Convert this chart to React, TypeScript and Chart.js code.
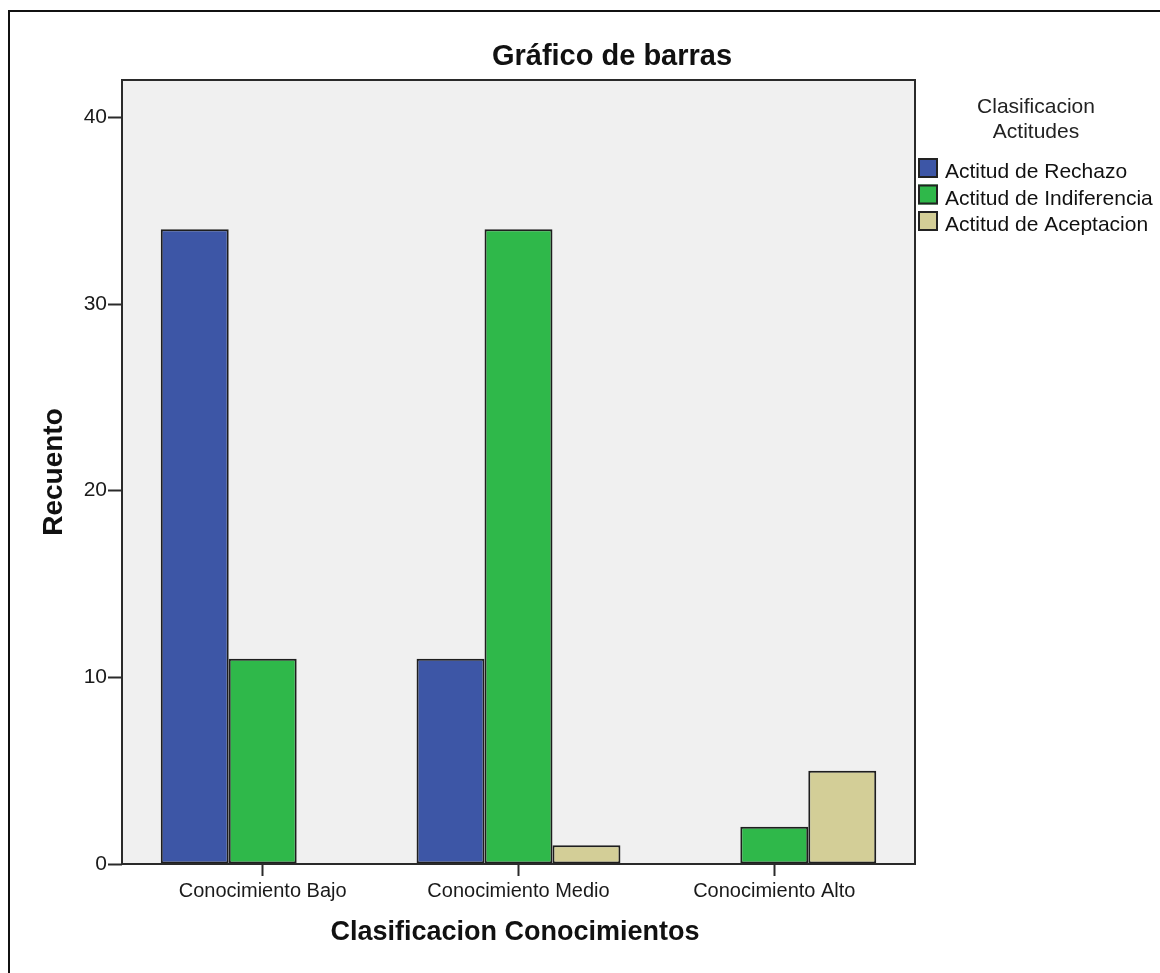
import React, { useEffect, useRef } from "react";
import { Chart, registerables } from "chart.js";
Chart.register(...registerables);

const chartTitle = "Gráfico de barras";
const xTitle = "Clasificacion Conocimientos";
const yTitle = "Recuento";
const legendTitle = ["Clasificacion", "Actitudes"];
const categories = ["Conocimiento Bajo", "Conocimiento Medio", "Conocimiento Alto"];
const seriesLabels = ["Actitud de Rechazo", "Actitud de Indiferencia", "Actitud de Aceptacion"];
const rechazo: (number | null)[] = [34, 11, null];
const indiferencia: (number | null)[] = [11, 34, 2];
const aceptacion: (number | null)[] = [null, 1, 5];
const yTicks = [0, 10, 20, 30, 40];
const yMax = 42;
const colors = ["#3d56a6", "#2fb84a", "#d3ce97"];

const FONT = "Arial, 'Liberation Sans', sans-serif";
const W = 1160;
const H = 973;

export default function App() {
  const ref = useRef<HTMLCanvasElement | null>(null);

  useEffect(() => {
    document.body.style.margin = "0";
    const canvas = ref.current;
    if (!canvas) return;
    const series = [rechazo, indiferencia, aceptacion];

    const decor = {
      id: "decor",
      beforeDraw(chart: any) {
        const ctx = chart.ctx;
        const a = chart.chartArea;
        ctx.save();
        ctx.fillStyle = "#ffffff";
        ctx.fillRect(0, 0, W, H);
        ctx.strokeStyle = "#111111";
        ctx.lineWidth = 2;
        ctx.strokeRect(9, 11, 1400, 1200);
        ctx.fillStyle = "#f0f0f0";
        ctx.fillRect(a.left, a.top, a.right - a.left, a.bottom - a.top);
        ctx.restore();
      },
      afterDatasetsDraw(chart: any) {
        const ctx = chart.ctx;
        const a = chart.chartArea;
        ctx.save();
        ctx.strokeStyle = "#2a2a2a";
        ctx.lineWidth = 2;
        ctx.strokeRect(a.left, a.top, a.right - a.left, a.bottom - a.top);
        ctx.restore();
      },
      afterDraw(chart: any) {
        const ctx = chart.ctx;
        ctx.save();
        ctx.fillStyle = "#111111";
        // title
        ctx.font = `bold 29px ${FONT}`;
        ctx.textAlign = "center";
        ctx.textBaseline = "alphabetic";
        ctx.fillText(chartTitle, 612, 65);
        // x title
        ctx.font = `bold 27px ${FONT}`;
        ctx.fillText(xTitle, 515, 940);
        // y title
        ctx.save();
        ctx.translate(62, 472);
        ctx.rotate(-Math.PI / 2);
        ctx.font = `bold 28px ${FONT}`;
        ctx.fillText(yTitle, 0, 0);
        ctx.restore();
        // legend title
        ctx.font = `21px ${FONT}`;
        ctx.fillStyle = "#222222";
        ctx.fillText(legendTitle[0], 1036, 113);
        ctx.fillText(legendTitle[1], 1036, 138);
        // legend items
        ctx.textAlign = "left";
        chart.data.datasets.forEach((ds: any, i: number) => {
          const y = 158 + i * 26.5;
          ctx.fillStyle = ds.backgroundColor;
          ctx.fillRect(918, y, 20, 20);
          ctx.strokeStyle = "#222222";
          ctx.lineWidth = 2;
          ctx.strokeRect(919, y + 1, 18, 18);
          ctx.fillStyle = "#111111";
          ctx.fillText(ds.label, 945, y + 20);
        });
        ctx.restore();
      },
    };

    const chart = new Chart(canvas, {
      type: "bar",
      data: {
        datasets: series.map((vals, i) => ({
          label: seriesLabels[i],
          data: vals.map((v, j) => ({ x: j, y: v })),
          backgroundColor: colors[i],
          borderColor: "#1e1e1e",
          borderWidth: 2,
          borderSkipped: false,
          categoryPercentage: 0.797,
          barPercentage: 1,
        })),
      },
      plugins: [decor],
      options: {
        responsive: false,
        animation: false,
        devicePixelRatio: 1,
        layout: { padding: { left: 0, top: 80, right: W - 915, bottom: H - 864 - 40 } },
        plugins: {
          legend: { display: false },
          title: { display: false },
          tooltip: { enabled: false },
        },
        scales: {
          x: {
            type: "linear",
            min: -0.55,
            max: 2.55,
            offset: false,
            afterBuildTicks: (s: any) => {
              s.ticks = categories.map((_, i) => ({ value: i }));
            },
            afterFit: (s: any) => {
              s.height = 40;
            },
            ticks: {
              callback: (v: any) => categories[v as number] ?? "",
              font: { family: FONT, size: 20 },
              color: "#1a1a1a",
              padding: 3,
              maxRotation: 0,
              autoSkip: false,
            },
            grid: {
              offset: false,
              drawOnChartArea: false,
              drawTicks: true,
              tickLength: 12,
              tickWidth: 2,
              tickColor: "#2a2a2a",
            },
            border: { display: false },
          },
          y: {
            type: "linear",
            min: 0,
            max: yMax,
            afterBuildTicks: (s: any) => {
              s.ticks = yTicks.map((v) => ({ value: v }));
            },
            afterFit: (s: any) => {
              s.width = 122;
            },
            ticks: {
              font: { family: FONT, size: 21 },
              color: "#1a1a1a",
              padding: 1,
            },
            grid: {
              drawOnChartArea: false,
              drawTicks: true,
              tickLength: 14,
              tickWidth: 2,
              tickColor: "#2a2a2a",
            },
            border: { display: false },
          },
        },
      },
    } as any);

    return () => chart.destroy();
  }, []);

  return (
    <div style={{ position: "absolute", left: 0, top: 0, width: W, height: H }}>
      <canvas ref={ref} width={W} height={H} style={{ width: W, height: H, display: "block" }} />
    </div>
  );
}
